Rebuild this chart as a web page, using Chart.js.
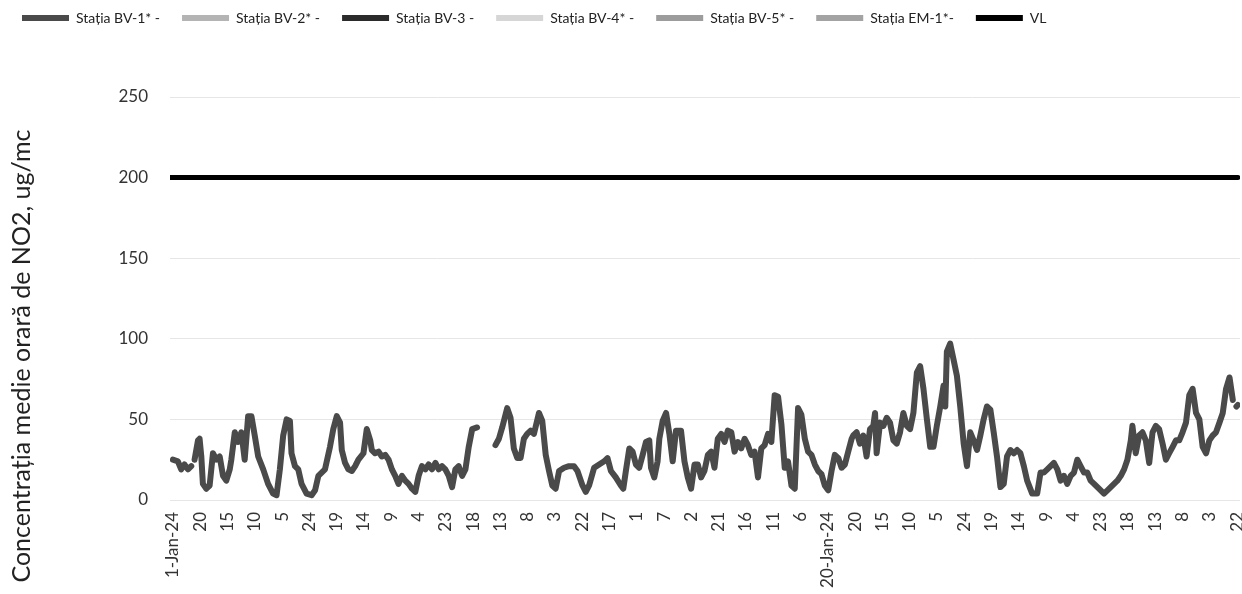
<!DOCTYPE html>
<html><head><meta charset="utf-8">
<script src="https://cdn.jsdelivr.net/npm/chart.js@4.4.1/dist/chart.umd.min.js"></script>
<style>html,body{margin:0;padding:0;background:#fff;}</style>
</head><body>
<canvas id="c" width="1242" height="594"></canvas>
<script>
const seriesNames = ["Stația BV-1* -", "Stația BV-2* -", "Stația BV-3 -", "Stația BV-4* -", "Stația BV-5* -", "Stația EM-1*-", "VL"];
const seriesColors = ["#4a4a4a", "#b4b4b4", "#2b2b2b", "#d6d6d6", "#9c9c9c", "#a3a3a3", "#000000"];
const tickLabels = ["1-Jan-24","20","15","10","5","24","19","14","9","4","23","18","13","8","3","22","17","1","7","2","21","16","11","6","20-Jan-24","20","15","10","5","24","19","14","9","4","23","18","13","8","3","22"];
const yTitle = "Concentrația medie orară de NO2, ug/mc";
const vlValue = 200;
// hour offset from 1-Jan-24 and hourly NO2 (ug/mc), station BV-1
const hours = [0,3.5,5.8,8.1,10.5,12.8,14,15.1,17.5,18.6,19.8,20.9,23.3,25.6,27.9,30.3,32.6,34.9,37.2,39.6,40.7,43.1,45.4,47.7,50,52.4,54.7,57,59.4,62.9,66.3,69.8,72.2,74.5,76.8,79.2,81.5,82.6,85,87.3,89.6,93.1,96.6,99,101.3,103.6,105.9,109.4,111.7,114.1,116.4,117.6,119.9,122.2,124.6,126.9,129.2,132.7,135,137.4,138.5,140.8,143.2,145.5,147.8,150.2,152.5,154.8,157.1,159.5,161.8,164.1,166.5,168.8,171.1,173.4,175.8,178.1,180.4,182.8,185.1,187.4,189.7,192.1,194.4,196.7,199,201.4,203.7,206,208.4,211.8,218,224.6,227,229.3,232.8,235.1,237.4,239.8,242.1,244.4,246.7,249.1,251.4,254.9,257.2,259.6,261.9,264.2,266.5,268.9,272.4,275.8,279.3,281.7,285.2,287.5,289.8,293.3,296.8,300.3,302.6,305,308.4,311.9,313.6,315.4,317.8,320.1,322.4,324.7,327.1,329.4,331.7,332.9,335.2,337.5,338.7,341,343.4,345.7,348,350.3,353.8,356.2,358.5,360.8,363.2,365.5,367.8,370.1,372.5,374.8,377.1,379.4,381.8,384.1,386.4,388.8,391.1,393.4,395.7,398.1,400.4,402.7,405,407.4,409.7,412,414.4,416.7,419,421.4,423.7,426,428.3,430.7,433,435.3,437.6,440,442.3,444.6,447,449.3,451.6,453.9,456.3,458.6,460.9,463.3,465.6,467.9,470.2,472.6,473.7,476.1,478.4,480.7,483,485.4,487.7,488.9,490,492.4,494.7,497,499.3,501.7,504,506.3,508.6,511,513.3,515.6,518,520.3,522.6,525,527.3,529.6,531.9,534.3,536.6,537.8,538.9,541.2,543.6,545.9,548.2,550.6,552.9,555.2,557.5,559.9,562.2,564.5,566.8,569.2,571.5,573.8,576.2,578.5,580.8,583.1,585.5,587.8,590.1,592.5,594.8,598.3,601.8,604.1,606.4,608.8,611.1,613.4,615.8,618.1,620.4,622.7,625.1,627.4,629.7,632,634.4,636.7,639,641.4,644.8,648.3,650.7,653,655.3,657.6,660,662.3,664.6,667,668.1,670.4,672.8,675.1,677.4,679.8,682.1,684.4,686.7,689.1,691.4,693.7,696.1,698.4,700.7,703,705.4,707.7,710,712.4,714.7,717,719.4,721.7,724,726.3,728.7,731,733.3,735.7,738,739.5,740.5,741.5];
const no2 = [25,24,19,22,19,21,null,25,37,38,27,10,7,9,29,25,27,15,12,19,25,42,36,42,25,52,52,40,27,19,10,4,3,19,40,50,49,29,21,19,10,4,3,6,15,17,19,33,44,52,48,31,23,19,18,21,25,29,44,37,31,29,30,27,28,25,19,15,10,15,12,10,7,5,15,21,19,22,19,23,19,21,19,15,8,19,21,15,19,33,44,45,null,34,38,45,57,51,32,26,26,38,41,43,41,54,49,28,18,9,7,18,20,21,21,18,9,5,9,20,22,24,26,18,14,9,7,18,32,30,22,20,28,36,37,20,14,24,38,49,54,41,24,43,43,24,14,7,22,22,14,18,28,30,20,38,41,36,43,42,30,36,32,38,34,28,30,14,32,34,41,36,65,64,47,20,24,9,7,57,53,38,30,28,22,18,16,9,6,18,28,26,20,22,30,38,40,42,35,40,27,44,46,54,29,48,46,51,48,37,35,42,54,46,44,54,79,83,69,50,33,33,46,58,71,58,92,97,87,77,58,35,21,42,37,31,40,50,58,56,42,27,8,10,27,31,29,31,29,21,12,4,4,17,17,19,21,23,19,12,15,10,15,17,25,21,17,17,12,10,7,4,6,8,10,12,15,19,25,37,46,29,40,42,37,23,42,46,44,35,25,29,33,37,37,42,48,65,69,54,50,33,29,37,40,42,48,54,69,76,62,null,58,59];
const xMin = -2, xMax = 743, hoursPerTick = 19;

const FONT = "Lato, 'Open Sans', sans-serif";
const datasets = seriesNames.map((name, i) => {
  let data = [];
  if (i === 0) data = hours.map((h, k) => ({x: h, y: no2[k]}));
  if (name === "VL") data = [{x: xMin, y: vlValue}, {x: hours[hours.length - 1], y: vlValue}];
  return {label: name, data, borderColor: seriesColors[i], backgroundColor: seriesColors[i],
    borderWidth: name === "VL" ? 5 : 6, pointRadius: 0, tension: 0, spanGaps: false,
    borderJoinStyle: 'round', borderCapStyle: 'round'};
});

const legendHeight = {id: 'legendHeight', beforeInit(chart) {
  const fit = chart.legend.fit;
  chart.legend.fit = function() { fit.bind(chart.legend)(); this.height = 108; };
}};
const yTitlePlugin = {id: 'yTitle', afterDraw(chart) {
  const ctx = chart.ctx; ctx.save();
  ctx.translate(22, 356); ctx.rotate(-Math.PI / 2);
  ctx.font = "25px " + FONT; ctx.fillStyle = '#222'; ctx.textAlign = 'center'; ctx.textBaseline = 'middle';
  ctx.fillText(yTitle, 0, 0); ctx.restore();
}};

new Chart(document.getElementById('c'), {
  type: 'line',
  data: {datasets},
  plugins: [legendHeight, yTitlePlugin],
  options: {
    responsive: false, animation: false,
    layout: {padding: {left: 0, right: 2, top: -11, bottom: 0}},
    plugins: {
      legend: {position: 'top', align: 'start',
        labels: {boxWidth: 47, boxHeight: 6, padding: 22, color: '#222', font: {family: FONT, size: 14},
          generateLabels(chart) {
            return Chart.defaults.plugins.legend.labels.generateLabels(chart).map(l => { l.lineWidth = 0; return l; });
          }}},
      tooltip: {enabled: false}
    },
    scales: {
      x: {type: 'linear', min: xMin, max: xMax,
        afterBuildTicks: s => { s.ticks = tickLabels.map((l, i) => ({value: i * hoursPerTick})); },
        afterFit: s => { s.height = 94; s.paddingRight = 0; s.paddingLeft = 0; },
        grid: {display: false, drawTicks: false}, border: {display: false},
        ticks: {autoSkip: false, maxRotation: 90, minRotation: 90, padding: 12, color: '#333',
          font: {family: FONT, size: 17}, callback: (v, i) => tickLabels[i]}},
      y: {min: 0, max: 250,
        afterFit: s => { s.width = 170; },
        grid: {color: '#e6e6e6', lineWidth: 1, drawTicks: false}, border: {display: false},
        ticks: {stepSize: 50, padding: 22, color: '#333', font: {family: FONT, size: 17}}}
    }
  }
});
</script>
</body></html>
